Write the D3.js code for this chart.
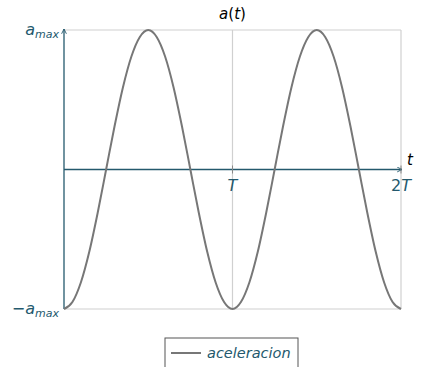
<!DOCTYPE html>
<html>
<head>
<meta charset="utf-8">
<script src="https://cdn.jsdelivr.net/npm/d3@7"></script>
<style>
  body { margin: 0; background: #fff; }
  text { font-family: "DejaVu Sans", sans-serif; }
</style>
</head>
<body>
<script>
// a(t) over two periods, t in units of T, a in units of a_max
var tValues = [0, 0.05, 0.1, 0.15, 0.2, 0.25, 0.3, 0.35, 0.4, 0.45, 0.5,
  0.55, 0.6, 0.65, 0.7, 0.75, 0.8, 0.85, 0.9, 0.95, 1,
  1.05, 1.1, 1.15, 1.2, 1.25, 1.3, 1.35, 1.4, 1.45, 1.5,
  1.55, 1.6, 1.65, 1.7, 1.75, 1.8, 1.85, 1.9, 1.95, 2];
var aValues = [-1, -0.95, -0.81, -0.59, -0.31, 0, 0.31, 0.59, 0.81, 0.95, 1,
  0.95, 0.81, 0.59, 0.31, 0, -0.31, -0.59, -0.81, -0.95, -1,
  -0.95, -0.81, -0.59, -0.31, 0, 0.31, 0.59, 0.81, 0.95, 1,
  0.95, 0.81, 0.59, 0.31, 0, -0.31, -0.59, -0.81, -0.95, -1];
var xTicks = [1, 2];
var xTickLabels = ["T", "2T"];
var seriesName = "aceleracion";

var width = 421, height = 367;
var margin = {left: 64, right: 20, top: 30, bottom: 58};
var axisColor = "#24596d";
var lineColor = "#777777";
var gridColor = "#d0d0d0";

var x = d3.scaleLinear().domain([0, 2]).range([margin.left, 401]);
var y = d3.scaleLinear().domain([-1, 1]).range([309, margin.top]);

var svg = d3.select("body").append("svg").attr("width", width).attr("height", height);

var defs = svg.append("defs");
defs.append("marker")
  .attr("id", "arrow")
  .attr("viewBox", "0 0 10 10")
  .attr("refX", 9).attr("refY", 5)
  .attr("markerWidth", 6).attr("markerHeight", 6)
  .attr("markerUnits", "userSpaceOnUse")
  .attr("orient", "auto")
  .append("path")
  .attr("d", "M1,1 L9,5 L1,9")
  .attr("fill", "none")
  .attr("stroke", axisColor)
  .attr("stroke-width", 1.5);

// grid
var grid = svg.append("g").attr("stroke", gridColor).attr("stroke-width", 1.2);
[1, -1].forEach(function(v) {
  grid.append("line").attr("x1", x(0)).attr("x2", x(2)).attr("y1", y(v)).attr("y2", y(v));
});
xTicks.forEach(function(t) {
  grid.append("line").attr("x1", x(t)).attr("x2", x(t)).attr("y1", y(1)).attr("y2", y(-1));
});

// axes
svg.append("line")
  .attr("x1", x(0)).attr("x2", x(2) + 1)
  .attr("y1", y(0)).attr("y2", y(0))
  .attr("stroke", axisColor).attr("stroke-width", 1.3)
  .attr("marker-end", "url(#arrow)");
svg.append("line")
  .attr("x1", x(0)).attr("x2", x(0))
  .attr("y1", y(-1)).attr("y2", y(1) - 1)
  .attr("stroke", axisColor).attr("stroke-width", 1.3)
  .attr("marker-end", "url(#arrow)");

// tick marks on t axis
svg.selectAll(".tick")
  .data(xTicks)
  .enter().append("line")
  .attr("x1", function(d) { return x(d); }).attr("x2", function(d) { return x(d); })
  .attr("y1", y(0) - 4).attr("y2", y(0) + 4)
  .attr("stroke", "#888").attr("stroke-width", 1);

// tick labels
svg.selectAll(".xlab")
  .data(xTicks)
  .enter().append("text")
  .attr("x", function(d) { return x(d); })
  .attr("y", y(0) + 21)
  .attr("text-anchor", "middle")
  .attr("font-size", 16)
  .attr("fill", axisColor)
  .each(function(d, i) {
    var s = xTickLabels[i];
    var el = d3.select(this);
    if (s.length > 1) {
      el.append("tspan").text(s.slice(0, -1));
    }
    el.append("tspan").attr("font-style", "italic").text(s.slice(-1));
  });

var yl = svg.append("text").attr("x", x(0) - 5).attr("y", y(1) + 5)
  .attr("text-anchor", "end").attr("fill", axisColor).attr("font-size", 16);
yl.append("tspan").attr("font-style", "italic").text("a");
yl.append("tspan").attr("font-style", "italic").attr("font-size", 11).attr("dy", 3).text("max");

var yl2 = svg.append("text").attr("x", x(0) - 5).attr("y", y(-1) + 5)
  .attr("text-anchor", "end").attr("fill", axisColor).attr("font-size", 16);
yl2.append("tspan").text("\u2212");
yl2.append("tspan").attr("font-style", "italic").text("a");
yl2.append("tspan").attr("font-style", "italic").attr("font-size", 11).attr("dy", 3).text("max");

svg.append("text").attr("x", 407).attr("y", y(0) - 5)
  .attr("font-style", "italic").attr("font-size", 15).attr("fill", "#000").text("t");

// title
var title = svg.append("text").attr("x", x(1)).attr("y", 19)
  .attr("text-anchor", "middle").attr("font-size", 15).attr("fill", "#000");
title.append("tspan").attr("font-style", "italic").text("a");
title.append("tspan").text("(");
title.append("tspan").attr("font-style", "italic").text("t");
title.append("tspan").text(")");

// curve
var line = d3.line()
  .x(function(d, i) { return x(tValues[i]); })
  .y(function(d) { return y(d); })
  .curve(d3.curveMonotoneX);

svg.append("path")
  .datum(aValues)
  .attr("d", line)
  .attr("fill", "none")
  .attr("stroke", lineColor)
  .attr("stroke-width", 2);

// legend
var lg = svg.append("g").attr("transform", "translate(165,338)");
lg.append("rect").attr("x", 0).attr("y", 0).attr("width", 133).attr("height", 40)
  .attr("fill", "#fff").attr("stroke", "#555").attr("stroke-width", 1);
lg.append("line").attr("x1", 6).attr("x2", 36).attr("y1", 15).attr("y2", 15)
  .attr("stroke", lineColor).attr("stroke-width", 2);
lg.append("text").attr("x", 42).attr("y", 20).attr("font-size", 14.5)
  .attr("font-style", "italic").attr("fill", axisColor).text(seriesName);
</script>
</body>
</html>
